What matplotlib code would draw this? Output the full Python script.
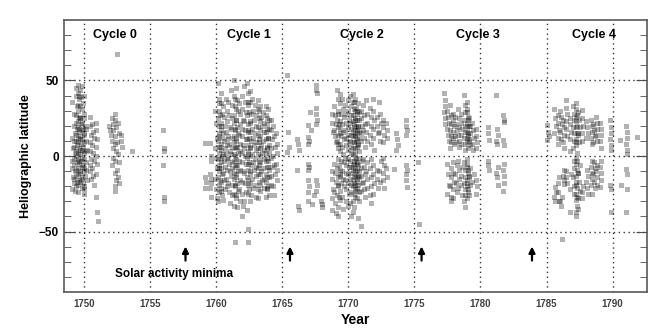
import numpy as np
import matplotlib
matplotlib.use("Agg")
import matplotlib.pyplot as plt

plt.rcParams['font.family'] = ['Liberation Sans', 'DejaVu Sans']
plt.rcParams['font.weight'] = 'bold'

# sunspot columns: (year, [latitudes])
cycle0 = [
    (1749.15, [36, 12, 5, -3, -8, -14, -22]),
    (1749.3, [28, 20, 15, 10, 6, 2, -2, -6, -10, -15, -18, -23]),
    (1749.45, [45, 40, 33, 27, 22, 18, 14, 10, 7, 3, 0, -4, -9, -13, -17, -20]),
    (1749.6, [47, 42, 38, 34, 30, 26, 23, 19, 16, 12, 9, 5, 2, -2, -5, -8, -12, -16, -19, -24]),
    (1749.7, [40, 33, 25, 18, 11, 4, -3, -10, -17]),
    (1749.8, [44, 39, 31, 25, 21, 17, 13, 8, 4, 1, -3, -7, -11, -15, -21]),
    (1749.95, [46, 35, 28, 22, 18, 15, 11, 6, 2, -1, -6, -10, -14, -18, -22]),
    (1750.05, [40, 25, 20, 14, 9, 3, -2, -8, -13, -20, -25]),
    (1750.2, [18, 10, 4, -4, -9, -16]),
    (1750.5, [26, 20, 14, 9, 3, -2, -6, -10, -15]),
    (1750.7, [21, 16, 12, 7, 2, -3, -8, -13, -19]),
    (1750.95, [22, 17, 11, 6, 0, -5, -12, -27, -37]),
    (1751.15, [-43]),
    (1752.0, [20, 17, 14]),
    (1752.2, [25, 21, 17, 10, 5, -1, -6]),
    (1752.4, [28, 24, 19, 13, 8, 3, -3, -11, -16, -20, -23]),
    (1752.6, [67.8, 22, 15, 9, 1, -4, -9, -14, -18]),
    (1752.85, [14, 10, 6]),
    (1753.7, [3]),
    (1756.05, [17.5, 5, 3.5, -5.8, -27, -29.5]),
    (1759.2, [8.7, -14, -17, -21]),
    (1759.6, [8.7, 0, -3, -12, -15, -18, -21, -27]),
]

cycle1 = [
    (1760.0, [30, 22, 12, 5, -1, -8, -15, -22, -28]),
    (1760.2, [48, 38, 30, 25, 20, 15, 10, 6, 2, -2, -6, -10, -14, -19, -24, -30]),
    (1760.3, [35, 27, 20, 13, 6, -1, -8, -16, -23]),
    (1760.4, [42, 35, 28, 22, 17, 12, 8, 4, 0, -4, -8, -12, -17, -21, -26]),
    (1760.6, [33, 26, 20, 15, 10, 5, 1, -3, -7, -11, -16, -22, -29]),
    (1760.8, [38, 30, 23, 16, 11, 7, 2, -2, -9, -15, -20]),
    (1761.0, [36, 27, 19, 13, 8, 3, -1, -5, -10, -18, -24, -31]),
    (1761.2, [44, 34, 25, 18, 12, 6, 1, -4, -8, -13, -19, -26]),
    (1761.4, [50, 40, 33, 27, 22, 17, 13, 9, 5, 1, -3, -7, -11, -15, -20, -25, -33, -57]),
    (1761.5, [38, 31, 24, 18, 12, 6, 0, -6, -12, -19, -26]),
    (1761.6, [45, 37, 30, 24, 19, 15, 10, 6, 2, -2, -6, -10, -14, -18, -23, -28, -34]),
    (1761.8, [35, 28, 21, 14, 8, 3, -3, -9, -16, -22, -30]),
    (1762.0, [40, 31, 24, 18, 13, 7, 2, -4, -10, -17, -25, -33, -40]),
    (1762.2, [46, 36, 29, 23, 17, 11, 5, 0, -5, -11, -18, -24, -30]),
    (1762.4, [48, 42, 34, 27, 21, 16, 11, 7, 3, -1, -5, -9, -14, -19, -25, -36, -48.5, -57]),
    (1762.5, [36, 29, 23, 17, 12, 6, 1, -4, -10, -16, -22, -30]),
    (1762.6, [43, 36, 28, 22, 16, 10, 5, 0, -6, -12, -18, -26]),
    (1762.8, [38, 30, 24, 18, 12, 7, 1, -4, -9, -15, -21]),
    (1763.0, [34, 27, 20, 15, 9, 4, -2, -7, -13, -19, -27]),
    (1763.2, [37, 31, 25, 19, 14, 9, 5, 1, -3, -8, -12, -17, -22, -28]),
    (1763.3, [30, 23, 17, 11, 5, 0, -6, -12, -19]),
    (1763.4, [33, 26, 20, 13, 7, 2, -4, -10, -16, -23]),
    (1763.6, [29, 22, 16, 10, 4, -2, -8, -15, -21]),
    (1763.8, [33, 27, 21, 16, 11, 6, 2, -3, -7, -12, -17, -22, -27]),
    (1763.9, [25, 18, 12, 5, -1, -7, -14, -21]),
    (1764.0, [31, 24, 18, 12, 7, 2, -3, -9, -14, -20, -26]),
    (1764.2, [24, 17, 11, 5, -1, -7, -13, -19]),
    (1764.4, [20, 13, 6, 0, -6, -12, -20, -26]),
    (1764.6, [15, 8, 2, -5, -9, -16]),
    (1765.45, [53.8, 16, 6, 2.7]),
    (1766.2, [11.5, 8, 3.8, -9.5, -33, -36]),
    (1767.0, [20.4, 12.7, 10, 8, -5, -7, -9.5, -16, -20, -24, -29.5]),
    (1767.2, [29, 17, -32]),
    (1767.45, [-26]),
    (1767.6, [47, 44, 41.5, 31.5, 28, 24, 21.5, -16, -19, -23]),
    (1768.0, [-30, -32, -34]),
]

cycle2 = [
    (1768.8, [28, 22, 16, -10, -15, -22, -28, -36]),
    (1769.0, [33, 27, 21, 17, 13, 9, -5, -11, -17, -24, -31, -38]),
    (1769.2, [44, 38, 30, 24, 19, 14, 10, 5, -2, -8, -14, -19, -26, -34, -40]),
    (1769.3, [28, 21, 15, 8, -6, -12, -20, -27]),
    (1769.4, [41, 35, 28, 23, 18, 13, 8, 3, -3, -9, -13, -18, -23, -29]),
    (1769.6, [38, 31, 26, 21, 16, 11, 6, 1, -4, -10, -15, -20, -27, -35]),
    (1769.8, [34, 28, 22, 17, 12, 7, -1, -6, -11, -16, -22, -30]),
    (1770.0, [37, 30, 24, 19, 14, 9, 4, -2, -7, -12, -18, -25, -33]),
    (1770.2, [40, 33, 27, 22, 18, 14, 10, 6, 2, -3, -7, -11, -15, -19, -24, -31, -40]),
    (1770.4, [41, 36, 31, 27, 23, 19, 16, 13, 9, 5, 1, -3, -6, -9, -13, -16, -20, -25, -30, -37]),
    (1770.5, [36, 30, 25, 21, 17, 13, 9, 5, -1, -5, -10, -14, -18, -22, -27, -34]),
    (1770.6, [38, 32, 28, 24, 20, 17, 14, 10, 6, 2, -2, -5, -8, -12, -15, -19, -23, -28]),
    (1770.7, [30, 24, 19, 15, 11, 7, -4, -9, -13, -17, -21]),
    (1770.8, [35, 29, 24, 20, 16, 12, 8, 3, -1, -6, -10, -14, -19, -24, -30, -40.7]),
    (1771.0, [30, 25, 20, 15, 10, -3, -8, -13, -18, -23, -46]),
    (1771.2, [34, 27, 21, 17, 12, 6, -2, -7, -12, -17, -22, -27]),
    (1771.4, [37, 28, 22, 16, 10, -4, -10, -15, -21]),
    (1771.7, [32, 26, 20, 14, 8, -2, -8, -14, -20, -26, -31]),
    (1771.9, [38, 30, 24, 18, 12, 4, -6, -12, -18, -25]),
    (1772.2, [26, 20, 15, -9, -15, -21]),
    (1772.4, [36, 28, 22, 16, 10, -3, -10, -17]),
    (1772.65, [24, 19, 14, 9, -1, -6, -11, -16, -21]),
    (1772.9, [22, 17, 12, -8, -14]),
    (1773.5, [-8.4]),
    (1773.7, [15, 11, 7, 3.8]),
    (1774.4, [24, 20, 17, 14, -6, -9, -12, -16, -20.7]),
    (1775.35, [-4, -45]),
]

cycle3 = [
    (1777.3, [41.5, 37, 33, 29, 25, 21.5]),
    (1777.55, [30, 26, 22, 18, 14, 10, -5, -12, -19, -25]),
    (1777.75, [33.8, 27, 21, 17, 13, 9, 5, -8, -14, -20, -27, -30]),
    (1777.95, [28, 24, 20, 16, 12, 8, -4, -11, -17, -22, -28]),
    (1778.15, [26, 21, 17, 13, 9, -6, -12, -18, -24]),
    (1778.35, [31, 25, 19, 14, 10, 6, -3, -9, -15, -21]),
    (1778.55, [28, 22, 18, 14, 8, -7, -13, -19, -26]),
    (1778.8, [40.4, 34, 29, 24, 20, 16, 12, 8, 4, -4, -9, -14, -18, -22, -26, -30, -34]),
    (1779.0, [36, 31, 26, 22, 19, 15, 12, 9, 5, -2, -7, -11, -16, -20, -24, -28]),
    (1779.05, [29, 24, 20, 16, 13, 10, -5, -9, -13, -18, -22, -26]),
    (1779.2, [25, 20, 15, 11, 7, -8, -14, -19]),
    (1779.45, [22, 17, 12, 8, 4, -12, -17]),
    (1779.7, [18, 13, 9, 5, -16, -20, -25]),
    (1780.6, [19, 15, 10.4, -3, -6, -9.5]),
    (1781.25, [40.4, 18, 14, 10, 8, -7, -11, -14, -19.5]),
    (1781.75, [27, 24, 22.7, 10.4, 7, -5, -9, -13, -18, -23]),
]

cycle4 = [
    (1785.1, [20.4, 16, 13, 10.4]),
    (1785.65, [31, 25, 20, 15, -20.7, -24, -27, -29.5]),
    (1785.9, [27, 22, 17, 12, 8, -14, -18, -24, -30]),
    (1786.1, [30, 26, 21, 16, 11, -27, -30, -33, -55]),
    (1786.3, [24, 19, 14, 9, 5, -9.5, -13, -16, -18.4]),
    (1786.5, [37, 32, 28, 23, 18, 13, -10, -14, -18]),
    (1786.8, [25, 21, 16, 11, 3, -12, -22, -37]),
    (1787.05, [33, 28, 24, 19, 15, 10, 5, -3, -8, -14, -20, -25]),
    (1787.25, [35, 31, 27, 23, 19, 15, 11, 7, 2, -1, -5, -9, -13, -17, -21, -25, -29, -33, -37, -40]),
    (1787.3, [26, 20, 15, 9, -3, -11, -19, -27, -35]),
    (1787.45, [29, 24, 19, 14, 9, -6, -11, -17, -23, -28]),
    (1787.7, [30.4, 25, 20, 15, 10, -20, -24, -28]),
    (1788.05, [23, 19, 15, 12, -9.5, -13, -17, -21, -25]),
    (1788.4, [24, 20, 16, 12, 8, -3, -7, -11, -15, -19, -25]),
    (1788.6, [21, 17, 13, 9, -4, -8, -12, -17, -21]),
    (1788.8, [26, 22, 18, 14, 10, -6, -10, -14, -19]),
    (1789.1, [22, 18, 14, 10, 5, -3, -7, -11, -16, -20.7]),
    (1789.85, [24, 19, 15, 11, 7, 4, -19.5, -22, -37]),
    (1790.6, [10.4, -19.5]),
    (1791.05, [20, 16, 12, 8, 4, 1.5, -8.4, -12, -22, -37]),
    (1791.9, [12.7]),
]

cycle_names = ["Cycle 0", "Cycle 1", "Cycle 2", "Cycle 3", "Cycle 4"]
cycle_label_x = [1752.4, 1762.5, 1771.0, 1779.8, 1788.6]
minima_years = [1757.7, 1765.6, 1775.55, 1783.9]

years, lats = [], []
for cyc in [cycle0, cycle1, cycle2, cycle3, cycle4]:
    for yr, col in cyc:
        # small alternating shift so stacked squares don't sit on a perfect grid
        years += [yr + 0.05 * ((i % 3) - 1) for i in range(len(col))]
        lats += col

fig = plt.figure(figsize=(6.65, 3.33), dpi=100)
ax = fig.add_axes([0.096, 0.123, 0.877, 0.817])

ax.plot(years, lats, 's', color='k', alpha=0.3, markersize=3.6, markeredgewidth=0)

ax.set_xlim(1748.5, 1792.6)
ax.set_ylim(-90, 90)
ax.set_xticks([1750, 1755, 1760, 1765, 1770, 1775, 1780, 1785, 1790])
ax.set_yticks([-50, 0, 50])
ax.set_yticks(np.arange(-80, 90, 10), minor=True)
ax.tick_params(axis='x', length=0, pad=5, labelsize=7, labelcolor='0.25')
ax.tick_params(axis='y', which='both', direction='in', left=True, right=True, labelsize=8.5, color='0.3')
ax.tick_params(axis='y', which='major', length=8)
ax.tick_params(axis='y', which='minor', length=5)
ax.grid(True, which='major', linestyle=(0, (1, 2.5)), color='0.2', linewidth=1.0)
for s in ax.spines.values():
    s.set_color('0.35')
    s.set_linewidth(1.2)

for name, xc in zip(cycle_names, cycle_label_x):
    ax.text(xc, 80, name, ha='center', va='center', fontsize=9, fontweight='bold')

for m in minima_years:
    ax.annotate('', xy=(m, -58), xytext=(m, -71),
                arrowprops=dict(arrowstyle='-|>', color='k', lw=1.6, mutation_scale=9))
ax.text(1752.4, -78, "Solar activity minima", ha='left', va='center', fontsize=8.5, fontweight='bold')

ax.set_xlabel("Year", fontsize=10, fontweight='bold', labelpad=3)
ax.set_ylabel("Heliographic latitude", fontsize=9, fontweight='bold', labelpad=5)

fig.savefig("out.png", dpi=100)
